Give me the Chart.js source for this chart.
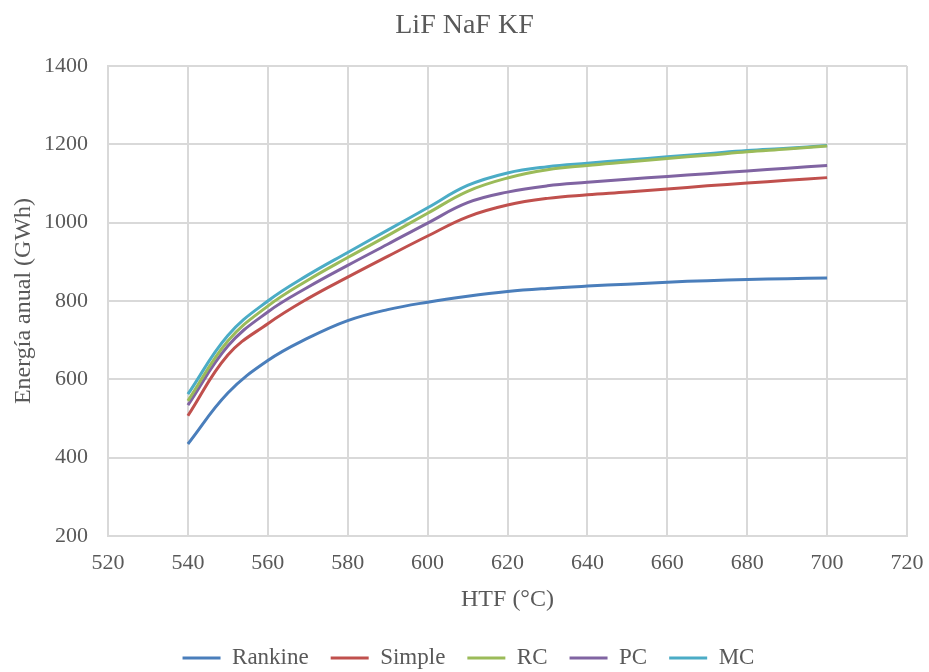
<!DOCTYPE html>
<html>
<head>
<meta charset="utf-8">
<title>LiF NaF KF</title>
<script src="https://cdn.jsdelivr.net/npm/chart.js@4.4.0/dist/chart.umd.min.js"></script>
<style>
  html, body { margin: 0; padding: 0; background: #fff; }
</style>
</head>
<body>
<canvas id="graph" width="929" height="672"></canvas>
<script>
// HTF temperature (°C)
var temps   = [540, 550, 560, 570, 580, 590, 600, 610, 620, 630, 640, 650, 660, 670, 680, 690, 700];
// annual energy (GWh)
var rankine = [435, 565, 648, 705, 750, 778, 797, 812, 824, 832, 838, 843, 848, 852, 855, 857, 859];
var simple  = [507, 662, 742, 806, 861, 914, 966, 1015, 1045, 1062, 1071, 1078, 1086, 1094, 1101, 1108, 1115];
var rc      = [545, 698, 787, 853, 911, 967, 1024, 1080, 1114, 1135, 1146, 1155, 1164, 1172, 1181, 1188, 1196];
var pc      = [534, 685, 772, 835, 891, 945, 999, 1051, 1078, 1094, 1103, 1111, 1118, 1125, 1132, 1139, 1146];
var mc      = [562, 712, 800, 866, 924, 981, 1038, 1095, 1127, 1143, 1152, 1160, 1168, 1176, 1184, 1190, 1197];

var seriesNames = ['Rankine', 'Simple', 'RC', 'PC', 'MC'];
var seriesData = [rankine, simple, rc, pc, mc];
var colors = ['#4a7ebb', '#c0504d', '#9bbb59', '#8064a2', '#4bacc6'];

var textColor = '#595959';
var gridColor = '#d9d9d9';
var serif = "'Liberation Serif', 'Times New Roman', serif";

var datasets = seriesNames.map(function (name, k) {
    return {
        label: name,
        data: temps.map(function (t, i) { return { x: t, y: seriesData[k][i] }; }),
        borderColor: colors[k],
        backgroundColor: colors[k],
        borderWidth: 3,
        pointRadius: 0,
        showLine: true,
        tension: 0.4,
        fill: false
    };
});

// title and legend are centred on the whole picture in the original,
// not on the area left of the right padding; legend also sits a bit lower
var boxShift = {
    id: 'boxShift',
    afterLayout: function (chart) {
        chart.legend.top += 7.5;
        chart.legend.bottom += 7.5;
        chart.legend.left += 15;
        chart.legend.right += 15;
        chart.titleBlock.left += 11;
        chart.titleBlock.right += 11;
    }
};

var ctx = document.getElementById('graph');
var chart = new Chart(ctx, {
    type: 'scatter',
    data: { datasets: datasets },
    plugins: [boxShift],
    options: {
        responsive: false,
        animation: false,
        layout: { padding: { left: 0, right: 22, top: 0, bottom: 0 } },
        plugins: {
            title: {
                display: true,
                text: 'LiF NaF KF',
                color: textColor,
                font: { family: serif, size: 28, weight: 'normal' },
                padding: { top: 9, bottom: 23.4 }
            },
            legend: {
                position: 'bottom',
                labels: {
                    color: textColor,
                    font: { family: serif, size: 23 },
                    usePointStyle: true,
                    pointStyle: 'line',
                    pointStyleWidth: 38,
                    boxWidth: 38,
                    padding: 22
                }
            },
            tooltip: { enabled: false }
        },
        scales: {
            x: {
                type: 'linear',
                position: 'bottom',
                min: 520,
                max: 720,
                ticks: {
                    stepSize: 20,
                    color: textColor,
                    padding: 3,
                    maxRotation: 0,
                    font: { family: serif, size: 22 }
                },
                grid: { color: gridColor, lineWidth: 2, drawTicks: true, tickLength: 11, tickColor: 'rgba(0,0,0,0)' },
                border: { color: gridColor, width: 2 },
                title: {
                    display: true,
                    text: 'HTF (°C)',
                    color: textColor,
                    font: { family: serif, size: 24 },
                    padding: { top: 4, bottom: 3 }
                },
                afterFit: function (scale) { scale.height = 81; }
            },
            y: {
                min: 200,
                max: 1400,
                ticks: {
                    stepSize: 200,
                    color: textColor,
                    padding: 20,
                    font: { family: serif, size: 22 },
                    callback: function (v) { return String(v); }
                },
                grid: { color: gridColor, lineWidth: 2, drawTicks: false },
                border: { color: gridColor, width: 2 },
                title: {
                    display: true,
                    text: 'Energía anual (GWh)',
                    color: textColor,
                    font: { family: serif, size: 24 },
                    padding: { top: 9, bottom: 4 }
                },
                afterFit: function (scale) { scale.width = 108; }
            }
        }
    }
});
</script>
</body>
</html>
